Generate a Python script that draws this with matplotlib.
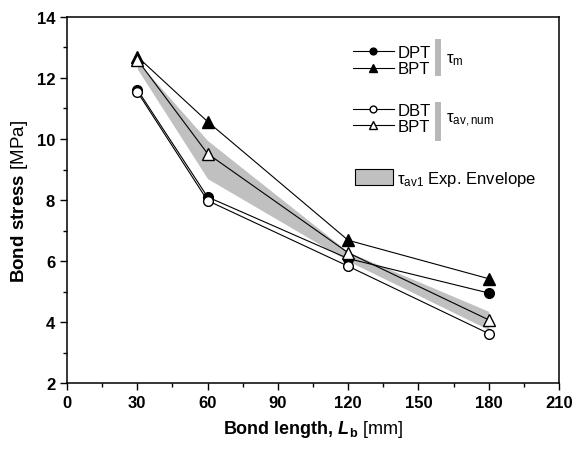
import matplotlib
matplotlib.use("Agg")
import matplotlib.pyplot as plt
from matplotlib.lines import Line2D
from matplotlib.patches import Patch

plt.rcParams["font.family"] = ["Liberation Sans", "DejaVu Sans"]
plt.rcParams["mathtext.fontset"] = "custom"
plt.rcParams["mathtext.rm"] = "Liberation Sans"
plt.rcParams["mathtext.it"] = "Liberation Sans:italic"
plt.rcParams["mathtext.bf"] = "Liberation Sans:bold"
plt.rcParams["mathtext.bfit"] = "Liberation Sans:bold:italic"

# ------------------
# Data
# ------------------
bond_length = [30, 60, 120, 180]
dpt_m = [11.62, 8.10, 6.08, 4.95]
bpt_m = [12.70, 10.57, 6.68, 5.42]
dbt_num = [11.55, 7.98, 5.83, 3.62]
bpt_num = [12.60, 9.52, 6.27, 4.07]
env_upper = [12.55, 9.95, 6.30, 4.35]
env_lower = [12.30, 8.70, 6.00, 3.75]

x_ticks = [0, 30, 60, 90, 120, 150, 180, 210]
y_ticks = [2, 4, 6, 8, 10, 12, 14]

fig = plt.figure(figsize=(5.79, 4.52), dpi=100)
ax = fig.add_axes([0.1157, 0.1504, 0.8498, 0.8098])

ax.fill_between(bond_length, env_lower, env_upper, color="#c0c0c0", lw=0, zorder=1)

lw = 0.8
ax.plot(bond_length, dpt_m, "k-", lw=lw, marker="o", ms=7, mfc="black", mec="black", zorder=3)
ax.plot(bond_length, bpt_m, "k-", lw=lw, marker="^", ms=8, mfc="black", mec="black", zorder=3)
ax.plot(bond_length, dbt_num, "k-", lw=lw, marker="o", ms=7, mfc="white", mec="black", zorder=4)
ax.plot(bond_length, bpt_num, "k-", lw=lw, marker="^", ms=8, mfc="white", mec="black", zorder=4)

ax.set_xlim(0, 210)
ax.set_ylim(2, 14)
ax.set_xticks(x_ticks)
ax.set_xticklabels([str(v) for v in x_ticks], fontsize=12, fontweight="bold")
ax.set_xticks(range(15, 211, 30), minor=True)
ax.set_yticks(y_ticks)
ax.set_yticklabels([str(v) for v in y_ticks], fontsize=12, fontweight="bold")
ax.set_yticks(range(3, 14, 2), minor=True)
ax.tick_params(which="major", direction="out", length=5, width=1, top=False, right=False)
ax.tick_params(which="minor", direction="out", length=3, width=1, top=False, right=False)
for sp in ax.spines.values():
    sp.set_linewidth(1.1)

ax.set_xlabel(r"$\mathbf{Bond\ length{,}\ }\mathbfit{L}_\mathbf{b}$ [mm]", fontsize=13, labelpad=6)
ax.set_ylabel(r"$\mathbf{Bond\ stress}$ [MPa]", fontsize=13.5, labelpad=5)

# ------------------
# Legend (three groups)
# ------------------
leg_kw = dict(frameon=False, fontsize=12, borderpad=0, borderaxespad=0, handlelength=2.45,
              handletextpad=0.25, labelspacing=0.1, loc="center left", markerscale=0.7)
group1 = [
    Line2D([], [], color="k", lw=lw, marker="o", ms=7, mfc="black", mec="black"),
    Line2D([], [], color="k", lw=lw, marker="^", ms=8, mfc="black", mec="black"),
]
group2 = [
    Line2D([], [], color="k", lw=lw, marker="o", ms=7, mfc="white", mec="black"),
    Line2D([], [], color="k", lw=lw, marker="^", ms=8, mfc="white", mec="black"),
]
leg1 = ax.legend(group1, ["DPT", "BPT"], bbox_to_anchor=(0.581, 0.881), **leg_kw)
ax.add_artist(leg1)
leg2 = ax.legend(group2, ["DBT", "BPT"], bbox_to_anchor=(0.581, 0.723), **leg_kw)
ax.add_artist(leg2)
ax.legend([Patch(facecolor="#c0c0c0", edgecolor="black", lw=0.8)],
          [r"$\mathrm{\tau}_{\mathrm{av1}}$ Exp. Envelope"],
          bbox_to_anchor=(0.585, 0.560), frameon=False, fontsize=12, borderpad=0, borderaxespad=0,
          handlelength=2.3, handleheight=1.1, handletextpad=0.25, loc="center left")

# gray brackets with group symbols
ax.plot([0.754, 0.754], [0.839, 0.94], transform=ax.transAxes, color="#b8b8b8", lw=4.3, solid_capstyle="butt")
ax.plot([0.754, 0.754], [0.661, 0.768], transform=ax.transAxes, color="#b8b8b8", lw=4.3, solid_capstyle="butt")
ax.text(0.771, 0.885, r"$\mathrm{\tau}_{\mathrm{m}}$", transform=ax.transAxes, fontsize=12, va="center")
ax.text(0.771, 0.72, r"$\mathrm{\tau}_{\mathrm{av,num}}$", transform=ax.transAxes, fontsize=12, va="center")

fig.savefig("out.png", dpi=100)
